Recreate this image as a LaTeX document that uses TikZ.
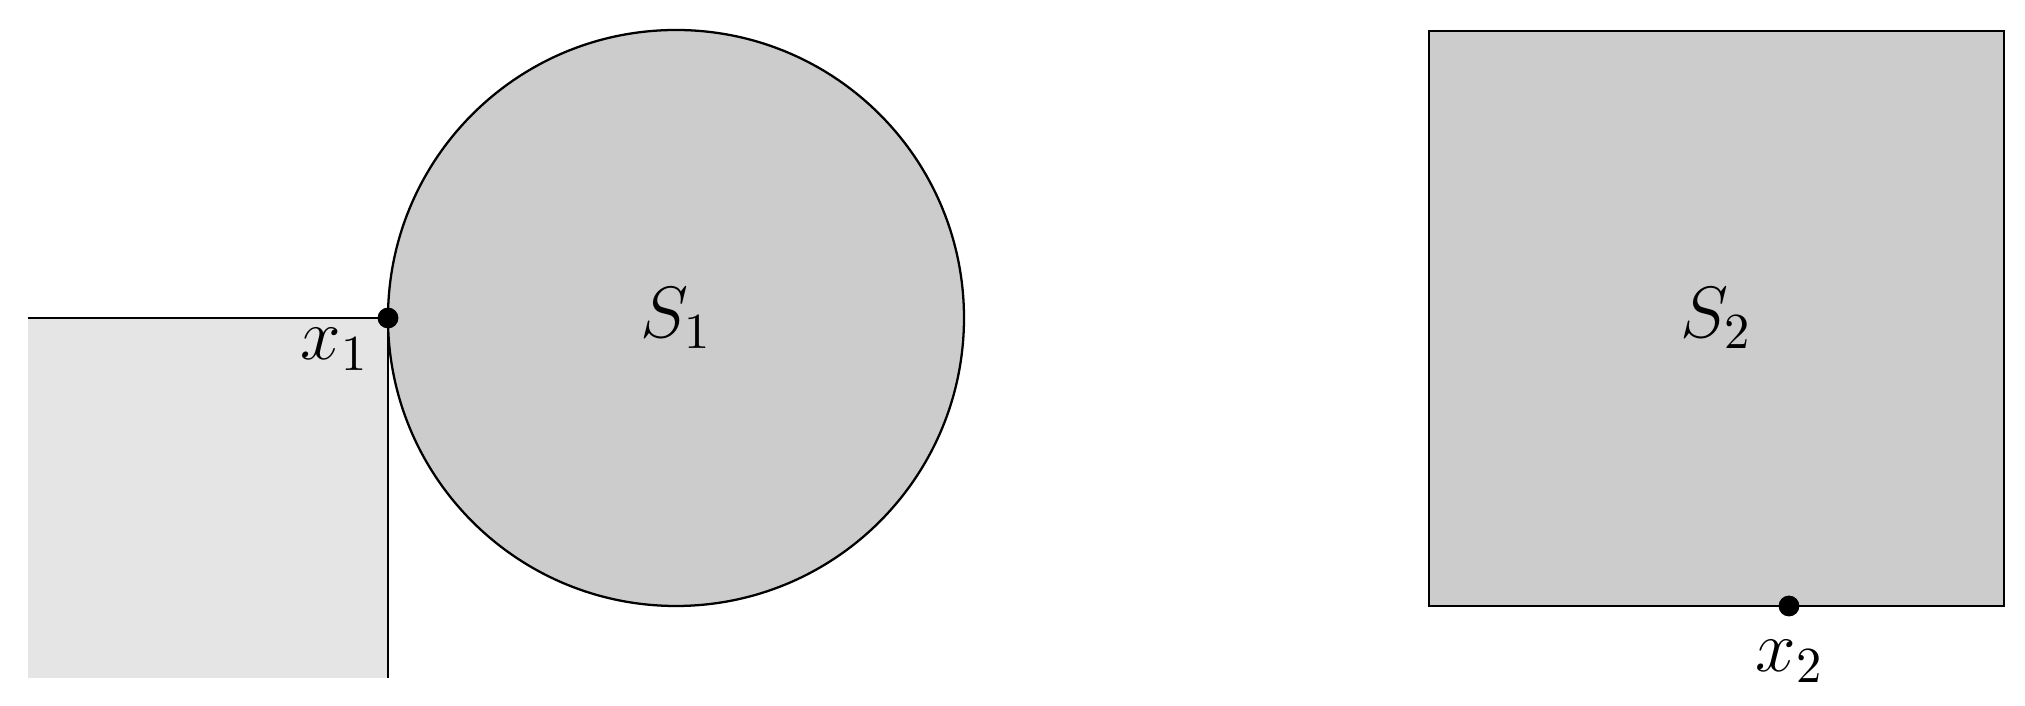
\documentclass[tikz,border=0pt]{standalone}
\begin{document}
\begin{tikzpicture}[x=0.0069565cm, y=-0.0069565cm,
  edge/.style={draw=black, line width=0.45pt},
  dotnode/.style={circle, fill=black, inner sep=0pt, minimum size=0.145cm},
  lbl/.style={inner sep=0pt, font=\Large}]
\useasboundingbox (0,0) rectangle (2025,706);
% light region
\fill[gray!20] (28,318) rectangle (388,678);
\draw[edge] (28,318) -- (388,318) -- (388,678);
% circle S1
\filldraw[fill=gray!40, edge] (676,318) circle[radius=288];
\node[lbl] (S1) at (676,318) {$S_1$};
% square S2
\filldraw[fill=gray!40, edge] (1429,31) rectangle (2004,606);
\node[lbl] (S2) at (1716.5,318.5) {$S_2$};
% points
\node[dotnode] (x1) at (388,318) {};
\node[lbl, anchor=north east] (x1l) at (370,327) {$x_1$};
\node[dotnode] (x2) at (1789,606) {};
\node[lbl, anchor=north] (x2l) at (1790,639) {$x_2$};
\end{tikzpicture}
\end{document}
